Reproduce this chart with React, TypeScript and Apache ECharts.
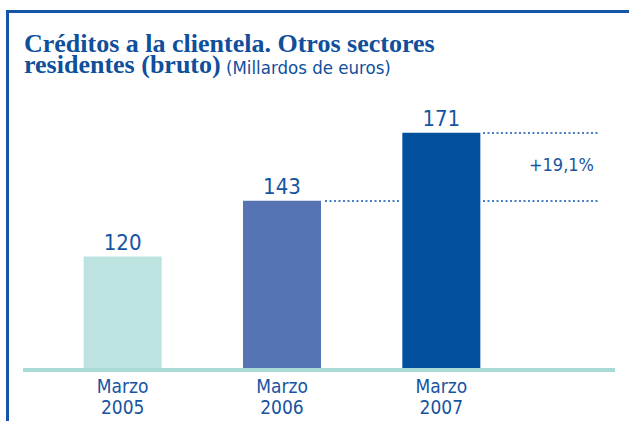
import React, { useEffect, useRef } from 'react';
import * as echarts from 'echarts';

const categories = ['Marzo\n2005', 'Marzo\n2006', 'Marzo\n2007'];
const values = [120, 143, 171];
const barColors = ['#bce3df', '#5674b3', '#00509e'];
const titleLine1 = 'Créditos a la clientela. Otros sectores';
const titleLine2 = 'residentes (bruto)';
const unitText = '(Millardos de euros)';
const growthLabel = '+19,1%';

export default function App() {
  const ref = useRef<HTMLDivElement>(null);
  useEffect(() => {
    const chart = echarts.init(ref.current!, null, { renderer: 'svg' });
    const textBlue = '#0f4f9b';
    const labelBlue = '#1654a2';
    const narrow = "'DejaVu Sans Condensed', 'Liberation Sans Narrow', sans-serif";
    chart.setOption({
      animation: false,
      grid: { left: 43, right: 108, top: 111, bottom: 53 },
      xAxis: {
        type: 'category',
        data: categories,
        axisLine: { show: false },
        axisTick: { show: false },
        axisLabel: { color: labelBlue, fontFamily: narrow, fontSize: 19, lineHeight: 21.5, margin: 7 },
      },
      yAxis: { type: 'value', min: 74, max: 180, show: false },
      series: [
        {
          type: 'bar',
          barWidth: 78,
          data: values.map((v, i) => ({ value: v, itemStyle: { color: barColors[i] } })),
          label: { show: true, position: 'top', distance: 3, color: labelBlue, fontFamily: narrow, fontSize: 22 },
          markLine: {
            silent: true,
            symbol: 'none',
            label: { show: false },
            lineStyle: { color: '#4a7fc2', width: 2, type: [2, 2.5] },
            data: [
              [{ coord: [1, values[1]], x: 325 }, { coord: [1, values[1]], x: 401 }],
              [{ coord: [1, values[1]], x: 483 }, { coord: [1, values[1]], x: 600 }],
              [{ coord: [2, values[2]], x: 483 }, { coord: [2, values[2]], x: 598 }],
            ],
          },
        },
      ],
      graphic: [
        { type: 'rect', shape: { x: 6, y: 10, width: 623, height: 3 }, style: { fill: '#1555a6' }, silent: true },
        { type: 'rect', shape: { x: 6, y: 10, width: 3, height: 411 }, style: { fill: '#1555a6' }, silent: true },
        { type: 'rect', shape: { x: 23, y: 368, width: 592, height: 4 }, style: { fill: '#a7dbd4' }, silent: true },
        {
          type: 'text', x: 24, y: 32.5,
          style: { text: titleLine1, fill: textBlue, font: "bold 26px 'Liberation Serif', serif", lineHeight: 21, verticalAlign: 'top' },
        },
        {
          type: 'text', x: 24, y: 54,
          style: { text: titleLine2, fill: textBlue, font: "bold 26px 'Liberation Serif', serif", lineHeight: 21, verticalAlign: 'top' },
        },
        {
          type: 'text', x: 226, y: 58,
          style: { text: unitText, fill: textBlue, font: "18.5px " + narrow, verticalAlign: 'top' },
        },
        {
          type: 'text', x: 594, y: 164.5,
          style: { text: growthLabel, fill: labelBlue, font: "18px " + narrow, align: 'right', verticalAlign: 'middle' },
        },
      ],
    });
    return () => chart.dispose();
  }, []);
  return <div ref={ref} style={{ width: 629, height: 421, position: 'absolute', left: 0, top: 0 }} />;
}
